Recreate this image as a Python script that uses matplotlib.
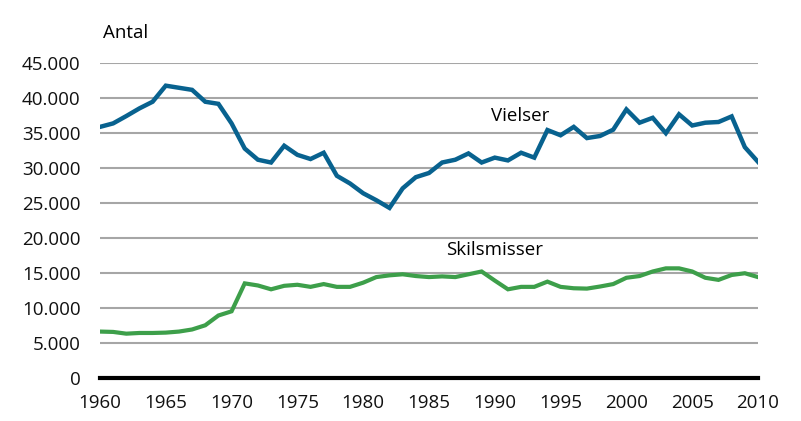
import numpy as np
import matplotlib.pyplot as plt
from matplotlib.ticker import FuncFormatter

years = list(range(1960, 2011))

# Vielser (marriages) per year
vielser = [35.9, 36.4, 37.45, 38.55, 39.5, 41.8, 41.5, 41.2, 39.5, 39.2,
           36.4, 32.8, 31.2, 30.8, 33.2, 31.9, 31.3, 32.2, 28.9, 27.8,
           26.4, 25.4, 24.3, 27.1, 28.7, 29.3, 30.8, 31.2, 32.1, 30.8,
           31.5, 31.1, 32.2, 31.5, 35.45, 34.7, 35.9, 34.3, 34.6, 35.5,
           38.4, 36.5, 37.2, 35.0, 37.7, 36.1, 36.5, 36.6, 37.4, 33.0,
           30.9]

# Skilsmisser (divorces) per year
skilsmisser = [6.6, 6.55, 6.3, 6.4, 6.4, 6.45, 6.6, 6.9, 7.5, 8.9,
               9.5, 13.5, 13.2, 12.65, 13.15, 13.3, 13.0, 13.4, 13.0, 13.0,
               13.6, 14.4, 14.65, 14.8, 14.55, 14.4, 14.5, 14.4, 14.8, 15.2,
               13.9, 12.65, 13.0, 13.0, 13.75, 13.0, 12.8, 12.75, 13.05, 13.4,
               14.3, 14.55, 15.2, 15.65, 15.65, 15.2, 14.3, 14.0, 14.7, 14.95,
               14.4]

vielser = np.array(vielser) * 1000
skilsmisser = np.array(skilsmisser) * 1000

plt.rcParams['font.family'] = ['Open Sans', 'DejaVu Sans']
fs = 13.5

fig = plt.figure(figsize=(8.01, 4.21), dpi=100)
ax = fig.add_axes([0.1248, 0.1029, 0.8215, 0.7467])

ax.plot(years, vielser, color='#08628f', lw=3.2, solid_joinstyle='miter')
ax.plot(years, skilsmisser, color='#3d9f4a', lw=3.0, solid_joinstyle='miter')

ax.set_xlim(1960, 2010)
ax.set_ylim(0, 45000)
ax.set_xticks(range(1960, 2011, 5))
ax.set_yticks(range(0, 45001, 5000))
ax.yaxis.set_major_formatter(FuncFormatter(lambda v, p: f"{int(v):,}".replace(",", ".")))
ax.grid(axis='y', color='#a6a6a6', lw=1.5)
ax.set_axisbelow(True)
for s in ['top', 'right', 'left']:
    ax.spines[s].set_visible(False)
ax.spines['bottom'].set_linewidth(3)
ax.spines['bottom'].set_color('black')
ax.spines['bottom'].set_zorder(5)
ax.tick_params(length=0, labelsize=fs, colors='#111111')
ax.tick_params(axis='y', pad=14)
ax.tick_params(axis='x', pad=12)

fig.text(103 / 801, 1 - 33 / 421, "Antal", fontsize=fs, va='center', ha='left')
ax.text(1991.9, 37450, "Vielser", fontsize=fs, ha='center', va='center')
ax.text(1990.0, 18300, "Skilsmisser", fontsize=fs, ha='center', va='center')

fig.savefig("out.png", dpi=100)
